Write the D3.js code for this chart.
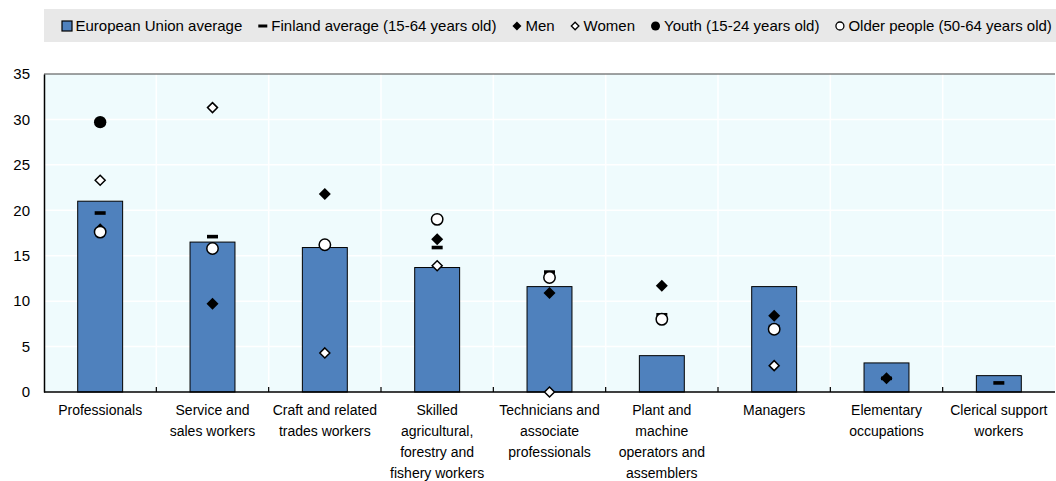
<!DOCTYPE html>
<html>
<head>
<meta charset="utf-8">
<script src="https://cdn.jsdelivr.net/npm/d3@7"></script>
<style>
  body { margin: 0; background: #fff; }
  svg text { font-family: "Liberation Sans", Arial, sans-serif; fill: #000; }
</style>
</head>
<body>
<svg id="chart"></svg>
<script>
const width = 1056;
const height = 481;

// occupations, "|" marks a line break in the tick label
const categories = [
  "Professionals",
  "Service and|sales workers",
  "Craft and related|trades workers",
  "Skilled|agricultural,|forestry and|fishery workers",
  "Technicians and|associate|professionals",
  "Plant and|machine|operators and|assemblers",
  "Managers",
  "Elementary|occupations",
  "Clerical support|workers"
];
const euAverage = [21.0, 16.5, 15.9, 13.7, 11.6, 4.0, 11.6, 3.2, 1.8];
const finlandAverage = [19.7, 17.1, 16.2, 15.9, 13.2, 8.5, 7.2, 1.5, 1.0];
const men = [17.9, 9.7, 21.8, 16.8, 10.9, 11.7, 8.4, 1.5, null];
const women = [23.3, 31.3, 4.3, 13.9, 0.0, null, 2.9, null, null];
const youth = [29.7, null, null, null, null, null, null, null, null];
const older = [17.6, 15.8, 16.2, 19.0, 12.6, 8.0, 6.9, null, null];
const yTicks = [0, 5, 10, 15, 20, 25, 30, 35];
const legendLabels = [
  "European Union average",
  "Finland average (15-64 years old)",
  "Men",
  "Women",
  "Youth (15-24 years old)",
  "Older people (50-64 years old)"
];

const barColor = "#4F81BD";
const margin = {top: 74, right: 1, bottom: 89, left: 44};

var svg = d3.select("#chart").attr("width", width).attr("height", height);

var x = d3.scaleBand()
  .domain(categories)
  .range([margin.left, width - margin.right])
  .paddingInner(0.6)
  .paddingOuter(0.3);
var y = d3.scaleLinear()
  .domain([0, 35])
  .range([height - margin.bottom, margin.top]);

// plot background
svg.append("rect")
  .attr("x", margin.left)
  .attr("y", margin.top)
  .attr("width", width - margin.right - margin.left)
  .attr("height", y(0) - margin.top)
  .attr("fill", "#EFFBFD");

// horizontal grid
svg.selectAll(".hgrid")
  .data(yTicks.filter(d => d > 0 && d < 35))
  .enter().append("line")
  .attr("x1", margin.left).attr("x2", width - margin.right)
  .attr("y1", d => y(d)).attr("y2", d => y(d))
  .attr("stroke", "#fff").attr("stroke-width", 1.5);

// vertical grid at category boundaries
var step = x.step();
var bounds = d3.range(1, categories.length).map(i => margin.left + i * step);
svg.selectAll(".vgrid")
  .data(bounds)
  .enter().append("line")
  .attr("x1", d => d).attr("x2", d => d)
  .attr("y1", margin.top).attr("y2", y(0))
  .attr("stroke", "#fff").attr("stroke-width", 1.5);

// top frame line
svg.append("line")
  .attr("x1", margin.left).attr("x2", width - margin.right)
  .attr("y1", margin.top).attr("y2", margin.top)
  .attr("stroke", "#444").attr("stroke-width", 1.2);

// y axis
var yAxis = svg.append("g")
  .attr("transform", "translate(" + margin.left + ",0)")
  .call(d3.axisLeft(y).tickValues(yTicks).tickSize(0).tickPadding(14));
yAxis.select(".domain").attr("stroke", "#000").attr("stroke-width", 1.5);
yAxis.selectAll("text").style("font-size", "15px");

// bars
svg.selectAll(".bar")
  .data(euAverage)
  .enter().append("rect")
  .attr("class", "bar")
  .attr("x", (d, i) => x(categories[i]))
  .attr("y", d => y(d))
  .attr("width", x.bandwidth())
  .attr("height", d => y(0) - y(d))
  .attr("fill", barColor)
  .attr("stroke", "#000")
  .attr("stroke-width", 1);

// x axis line + inner ticks
svg.append("line")
  .attr("x1", margin.left).attr("x2", width - margin.right)
  .attr("y1", y(0)).attr("y2", y(0))
  .attr("stroke", "#000").attr("stroke-width", 1.5);
svg.selectAll(".xtick")
  .data(bounds)
  .enter().append("line")
  .attr("x1", d => d).attr("x2", d => d)
  .attr("y1", y(0)).attr("y2", y(0) - 5)
  .attr("stroke", "#000").attr("stroke-width", 1.2);

// x labels
var cx = i => x(categories[i]) + x.bandwidth() / 2;
svg.selectAll(".xlabel")
  .data(categories)
  .enter().append("text")
  .attr("text-anchor", "middle")
  .style("font-size", "14px")
  .each(function(d, i) {
    var t = d3.select(this);
    d.split("|").forEach(function(line, k) {
      t.append("tspan")
        .attr("x", cx(i))
        .attr("y", y(0) + 23 + k * 21)
        .text(line);
    });
  });

// marker shapes
var diamond = s => "M0," + (-s) + "L" + s + ",0L0," + s + "L" + (-s) + ",0Z";

function drawDash(g, px, py) {
  g.append("rect").attr("x", px - 5.5).attr("y", py - 1.8)
    .attr("width", 11).attr("height", 3.6).attr("fill", "#000");
}
function drawMen(g, px, py) {
  g.append("path").attr("d", diamond(6)).attr("transform", "translate(" + px + "," + py + ")")
    .attr("fill", "#000");
}
function drawWomen(g, px, py) {
  g.append("path").attr("d", diamond(5)).attr("transform", "translate(" + px + "," + py + ")")
    .attr("fill", "#fff").attr("stroke", "#000").attr("stroke-width", 1.5);
}
function drawYouth(g, px, py) {
  g.append("circle").attr("cx", px).attr("cy", py).attr("r", 6.2).attr("fill", "#000");
}
function drawOlder(g, px, py) {
  g.append("circle").attr("cx", px).attr("cy", py).attr("r", 5.7)
    .attr("fill", "#fff").attr("stroke", "#000").attr("stroke-width", 1.5);
}

var series = [
  {values: finlandAverage, draw: drawDash},
  {values: men, draw: drawMen},
  {values: women, draw: drawWomen},
  {values: youth, draw: drawYouth},
  {values: older, draw: drawOlder}
];
var markers = svg.append("g");
series.forEach(function(s) {
  s.values.forEach(function(v, i) {
    if (v !== null) s.draw(markers, cx(i), y(v));
  });
});

// legend
var legend = svg.append("g");
legend.append("rect")
  .attr("x", margin.left).attr("y", 9)
  .attr("width", width - margin.left).attr("height", 33)
  .attr("fill", "#E8E8E8");
var legendDraw = [
  function(g, px, py) {
    g.append("rect").attr("x", px - 5).attr("y", py - 5).attr("width", 10).attr("height", 10)
      .attr("fill", barColor).attr("stroke", "#000").attr("stroke-width", 1.2);
  },
  function(g, px, py) {
    g.append("rect").attr("x", px - 4.5).attr("y", py - 1.5).attr("width", 9).attr("height", 3).attr("fill", "#000");
  },
  function(g, px, py) {
    g.append("path").attr("d", diamond(4.5)).attr("transform", "translate(" + px + "," + py + ")").attr("fill", "#000");
  },
  function(g, px, py) {
    g.append("path").attr("d", diamond(3.8)).attr("transform", "translate(" + px + "," + py + ")")
      .attr("fill", "#fff").attr("stroke", "#000").attr("stroke-width", 1.3);
  },
  function(g, px, py) {
    g.append("circle").attr("cx", px).attr("cy", py).attr("r", 4.5).attr("fill", "#000");
  },
  function(g, px, py) {
    g.append("circle").attr("cx", px).attr("cy", py).attr("r", 4).attr("fill", "#fff")
      .attr("stroke", "#000").attr("stroke-width", 1.3);
  }
];
var lx = 67;
var ly = 26;
legendLabels.forEach(function(label, i) {
  legendDraw[i](legend, lx, ly);
  var t = legend.append("text")
    .attr("x", lx + 8.5)
    .attr("y", ly + 5)
    .style("font-size", "15px")
    .text(label);
  lx += 8.5 + t.node().getComputedTextLength() + 20.5;
});
</script>
</body>
</html>
